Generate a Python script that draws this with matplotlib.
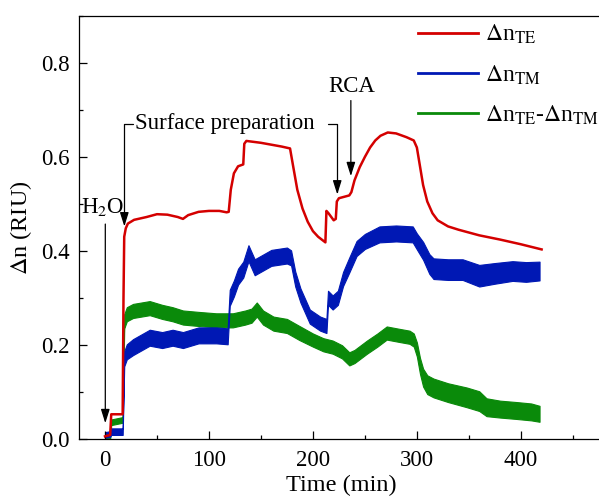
import numpy as np
import matplotlib
matplotlib.use('Agg')
import matplotlib.pyplot as plt
from matplotlib.ticker import MultipleLocator

plt.rcParams['font.family'] = ['Liberation Serif', 'DejaVu Serif']
plt.rcParams['mathtext.fontset'] = 'stix'

# Delta n_TE (smooth red trace)
te_time = [0, 5, 6, 17, 17.8, 18.5, 20, 22, 28, 40, 50, 60, 70, 75, 80, 90, 100, 110, 117,
           119, 121, 124, 128, 133, 134, 136, 150, 170, 178, 181, 185, 190, 195, 200, 205,
           212, 213, 215, 220, 222, 223, 225, 230, 235, 237, 240, 245, 250, 255, 260, 265,
           272, 280, 290, 297, 300, 303, 306, 310, 315, 320, 330, 340, 360, 380, 400, 420]
te_value = [0.005, 0.008, 0.052, 0.052, 0.30, 0.43, 0.448, 0.458, 0.466, 0.472, 0.478, 0.477,
            0.472, 0.468, 0.476, 0.483, 0.485, 0.485, 0.482, 0.483, 0.53, 0.565, 0.58, 0.584,
            0.628, 0.634, 0.63, 0.622, 0.618, 0.58, 0.53, 0.49, 0.462, 0.442, 0.43, 0.418,
            0.485, 0.48, 0.465, 0.468, 0.505, 0.512, 0.515, 0.518, 0.525, 0.55, 0.578, 0.60,
            0.62, 0.635, 0.645, 0.652, 0.65, 0.642, 0.635, 0.62, 0.58, 0.54, 0.505, 0.48, 0.465,
            0.452, 0.445, 0.433, 0.424, 0.414, 0.403]

# Delta n_TM (noisy blue trace: centre and half band width)
tm_time = [0, 5, 6, 17, 18.5, 21, 27, 35, 43, 55, 65, 75, 90, 107, 118, 120, 124, 128, 133,
           138, 144, 152, 160, 175, 179, 183, 188, 197, 207, 213, 214.5, 219, 224, 229, 235,
           242, 250, 264, 280, 296, 300, 306, 312, 316, 330, 344, 360, 375, 392, 405, 418]
tm_value = [0.008, 0.01, 0.015, 0.015, 0.17, 0.185, 0.195, 0.205, 0.215, 0.21, 0.215, 0.21,
            0.22, 0.22, 0.218, 0.30, 0.32, 0.345, 0.36, 0.395, 0.365, 0.375, 0.385, 0.39,
            0.385, 0.34, 0.305, 0.26, 0.245, 0.24, 0.30, 0.29, 0.30, 0.34, 0.37, 0.405, 0.42,
            0.435, 0.437, 0.435, 0.42, 0.40, 0.372, 0.362, 0.36, 0.36, 0.347, 0.352, 0.357,
            0.355, 0.357]
tm_spread = [0.006, 0.006, 0.007, 0.007, 0.016, 0.016, 0.017, 0.017, 0.017, 0.017, 0.017,
             0.017, 0.017, 0.017, 0.017, 0.017, 0.017, 0.017, 0.017, 0.017, 0.017, 0.017,
             0.017, 0.017, 0.016, 0.016, 0.015, 0.015, 0.015, 0.015, 0.015, 0.015, 0.015,
             0.015, 0.016, 0.016, 0.016, 0.017, 0.017, 0.017, 0.017, 0.019, 0.021, 0.022,
             0.022, 0.022, 0.023, 0.022, 0.021, 0.021, 0.02]

# Delta n_TE - Delta n_TM (noisy green trace)
diff_time = [0, 5, 6, 17, 18.5, 21, 27, 35, 43, 55, 65, 75, 90, 107, 123, 135, 141, 146, 152,
             162, 175, 187, 200, 210, 219, 228, 235, 240, 252, 262, 271, 283, 293, 297, 300,
             303, 306, 310, 316, 330, 348, 360, 367, 380, 396, 410, 418]
diff_value = [0.003, 0.005, 0.035, 0.04, 0.25, 0.265, 0.272, 0.275, 0.278, 0.27, 0.265, 0.258,
              0.255, 0.252, 0.252, 0.258, 0.262, 0.275, 0.258, 0.245, 0.24, 0.225, 0.21, 0.20,
              0.195, 0.185, 0.17, 0.175, 0.195, 0.21, 0.225, 0.22, 0.216, 0.21, 0.19, 0.155,
              0.13, 0.115, 0.108, 0.098, 0.088, 0.08, 0.067, 0.063, 0.06, 0.057, 0.053]
diff_spread = [0.005, 0.005, 0.006, 0.006, 0.015, 0.015, 0.015, 0.015, 0.015, 0.015, 0.015,
               0.015, 0.015, 0.015, 0.015, 0.015, 0.015, 0.015, 0.015, 0.015, 0.015, 0.015,
               0.014, 0.014, 0.014, 0.014, 0.014, 0.014, 0.014, 0.014, 0.014, 0.014, 0.014,
               0.014, 0.015, 0.017, 0.019, 0.02, 0.02, 0.02, 0.021, 0.021, 0.019, 0.018, 0.018,
               0.018, 0.017]

red, blue, green = '#d40000', '#0018b4', '#0a8a0a'

fig = plt.figure(figsize=(5.99, 4.97), dpi=100)
ax = fig.add_axes([79 / 599, 58.3 / 497, 525 / 599, 422.7 / 497])

# noisy traces drawn as bands around their centre lines
d_t, d_v, d_s = np.array(diff_time), np.array(diff_value), np.array(diff_spread)
ax.fill_between(d_t, d_v - d_s, d_v + d_s, color=green, lw=0.8)
t_t, t_v, t_s = np.array(tm_time), np.array(tm_value), np.array(tm_spread)
ax.fill_between(t_t, t_v - t_s, t_v + t_s, color=blue, lw=0.8)
ax.plot(te_time, te_value, color=red, lw=1.8)

# legend handles
ax.plot([], [], color=red, lw=2, label=r'$\Delta$n$_{\rm TE}$')
ax.plot([], [], color=blue, lw=2, label=r'$\Delta$n$_{\rm TM}$')
ax.plot([], [], color=green, lw=2, label=r'$\Delta$n$_{\rm TE}$-$\Delta$n$_{\rm TM}$')
ax.legend(loc='upper left', bbox_to_anchor=(418 / 599, 1 - 23 / 497),
          bbox_transform=fig.transFigure, frameon=False, fontsize=17,
          borderpad=0, borderaxespad=0, handlelength=2.55, handletextpad=0.3,
          labelspacing=0.72)

# annotations
arrow = dict(arrowstyle='-|>,head_length=0.7,head_width=0.22', color='black', lw=0.9,
             mutation_scale=12, shrinkA=0, shrinkB=0)
ax.text(-1.9, 0.481, r'H$_2$O', fontsize=16.5, ha='center', va='baseline')
ax.annotate('', xy=(0.3, 0.033), xytext=(0.3, 0.457), arrowprops=arrow)
ax.text(28.5, 0.659, 'Surface preparation', fontsize=16.5, ha='left', va='baseline')
ax.annotate('', xy=(18.6, 0.452), xytext=(26.5, 0.670),
            arrowprops=dict(arrow, connectionstyle='angle,angleA=0,angleB=90,rad=0'))
ax.annotate('', xy=(223.4, 0.520), xytext=(214.5, 0.670),
            arrowprops=dict(arrow, connectionstyle='angle,angleA=0,angleB=90,rad=0'))
ax.text(237.5, 0.738, 'RCA', fontsize=16.5, ha='center', va='baseline')
ax.annotate('', xy=(236.5, 0.559), xytext=(236.5, 0.72), arrowprops=arrow)

ax.set_xlim(-25, 480)
ax.set_ylim(0, 0.9)
ax.xaxis.set_major_locator(MultipleLocator(100))
ax.xaxis.set_minor_locator(MultipleLocator(50))
ax.yaxis.set_major_locator(MultipleLocator(0.2))
ax.yaxis.set_minor_locator(MultipleLocator(0.1))
ax.tick_params(which='both', direction='in', top=False, right=False, width=0.9,
               labelsize=16.5)
ax.tick_params(which='major', length=6)
ax.tick_params(which='minor', length=3)
ax.tick_params(axis='x', pad=8)
ax.tick_params(axis='y', pad=7)
for s in ax.spines.values():
    s.set_linewidth(0.9)

ax.set_xlabel('Time (min)', fontsize=17.5, labelpad=3)
ax.set_ylabel(r'$\Delta$n (RIU)', fontsize=17.5, labelpad=5)

fig.savefig('out.png', dpi=100)
